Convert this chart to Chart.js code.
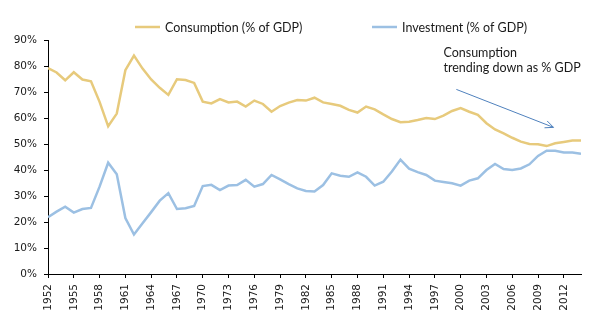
<!DOCTYPE html>
<html>
<head>
<meta charset="utf-8">
<script src="https://cdn.jsdelivr.net/npm/chart.js@4.4.0/dist/chart.umd.min.js"></script>
<style>
  html, body { margin: 0; padding: 0; background: #fff; }
  #wrap { width: 605px; height: 336px; }
</style>
</head>
<body>
<div id="wrap"><canvas id="c" width="605" height="336"></canvas></div>
<script>
// Years covered by the series
const years = [
  1952, 1953, 1954, 1955, 1956, 1957, 1958, 1959, 1960, 1961,
  1962, 1963, 1964, 1965, 1966, 1967, 1968, 1969, 1970, 1971,
  1972, 1973, 1974, 1975, 1976, 1977, 1978, 1979, 1980, 1981,
  1982, 1983, 1984, 1985, 1986, 1987, 1988, 1989, 1990, 1991,
  1992, 1993, 1994, 1995, 1996, 1997, 1998, 1999, 2000, 2001,
  2002, 2003, 2004, 2005, 2006, 2007, 2008, 2009, 2010, 2011,
  2012, 2013, 2014
];

// Consumption, % of GDP
const consumption = [
  79.2, 77.5, 74.5, 77.6, 74.8, 74.1, 66.2, 56.8, 61.7, 78.4,
  84.0, 79.0, 74.8, 71.6, 68.9, 74.9, 74.6, 73.5, 66.3, 65.6,
  67.3, 66.0, 66.3, 64.4, 66.7, 65.4, 62.4, 64.6, 65.9, 66.9,
  66.7, 67.8, 66.0, 65.4, 64.7, 63.1, 62.1, 64.4, 63.3, 61.4,
  59.6, 58.4, 58.6, 59.2, 60.0, 59.6, 60.9, 62.7, 63.8, 62.4,
  61.2, 58.0, 55.6, 54.1, 52.4, 50.9, 50.0, 49.9, 49.2, 50.3,
  50.8, 51.3, 51.3
];

// Investment, % of GDP
const investment = [
  21.8, 24.0, 25.9, 23.6, 25.0, 25.4, 33.6, 42.8, 38.4, 21.5,
  15.2, 19.5, 23.8, 28.2, 31.1, 25.0, 25.3, 26.2, 33.8, 34.3,
  32.3, 34.0, 34.2, 36.2, 33.6, 34.6, 38.1, 36.4, 34.6, 32.9,
  31.9, 31.7, 34.2, 38.7, 37.8, 37.4, 39.1, 37.4, 34.0, 35.5,
  39.4, 44.0, 40.5, 39.2, 38.1, 35.9, 35.4, 34.9, 34.0, 35.9,
  36.8, 40.0, 42.3, 40.4, 40.0, 40.6, 42.2, 45.4, 47.4, 47.4,
  46.7, 46.7, 46.2
];

// Axis tick labels
const xTickYears = [1952, 1955, 1958, 1961, 1964, 1967, 1970, 1973, 1976, 1979,
  1982, 1985, 1988, 1991, 1994, 1997, 2000, 2003, 2006, 2009, 2012];
const yTickValues = [0, 10, 20, 30, 40, 50, 60, 70, 80, 90];

// Callout text and its arrow, in data units (year, percent)
const noteLines = ['Consumption', 'trending down as % GDP'];
const noteAnchor = { year: 1998.0, pct: 83.6 };
const noteLineStep = 5.8;
const arrowFrom = { year: 1999.5, pct: 71.0 };
const arrowTo = { year: 2010.8, pct: 56.4 };

const COL_CONS = '#E7CA7C';
const COL_INV = '#9CC0E3';
const TEXT = '#1a1a1a';
const FONT_UI = 'Lato, "Open Sans", sans-serif';
const FONT_AXIS = '"DejaVu Sans", Verdana, sans-serif';

// Legend across the top: short line sample followed by the series name
const topLegend = {
  id: 'topLegend',
  afterDraw(chart) {
    const ctx = chart.ctx;
    const slots = [135, 372];
    const y = 27;
    ctx.save();
    chart.data.datasets.forEach((ds, i) => {
      const x = slots[i];
      ctx.strokeStyle = ds.borderColor;
      ctx.lineWidth = 2.5;
      ctx.beginPath();
      ctx.moveTo(x, y);
      ctx.lineTo(x + 25, y);
      ctx.stroke();
      ctx.fillStyle = TEXT;
      ctx.font = '12.5px ' + FONT_UI;
      ctx.textBaseline = 'middle';
      ctx.textAlign = 'left';
      ctx.fillText(ds.label, x + 30, y + 0.5);
    });
    ctx.restore();
  }
};

// Callout with an arrow pointing at the falling consumption share
const callout = {
  id: 'callout',
  afterDraw(chart) {
    const { ctx, scales: { x, y } } = chart;
    ctx.save();
    ctx.fillStyle = TEXT;
    ctx.font = '12.5px ' + FONT_UI;
    ctx.textAlign = 'left';
    ctx.textBaseline = 'alphabetic';
    noteLines.forEach((t, i) => {
      ctx.fillText(t, x.getPixelForValue(noteAnchor.year),
        y.getPixelForValue(noteAnchor.pct - i * noteLineStep));
    });
    const x0 = x.getPixelForValue(arrowFrom.year), y0 = y.getPixelForValue(arrowFrom.pct);
    const x1 = x.getPixelForValue(arrowTo.year), y1 = y.getPixelForValue(arrowTo.pct);
    ctx.strokeStyle = '#4F81BD';
    ctx.lineWidth = 1;
    ctx.beginPath();
    ctx.moveTo(x0, y0);
    ctx.lineTo(x1, y1);
    const a = Math.atan2(y1 - y0, x1 - x0);
    const head = 9, spread = 0.42;
    ctx.moveTo(x1 - head * Math.cos(a - spread), y1 - head * Math.sin(a - spread));
    ctx.lineTo(x1, y1);
    ctx.lineTo(x1 - head * Math.cos(a + spread), y1 - head * Math.sin(a + spread));
    ctx.stroke();
    ctx.restore();
  }
};

const toPoints = arr => years.map((yr, i) => ({ x: yr, y: arr[i] }));

new Chart(document.getElementById('c'), {
  type: 'line',
  data: {
    datasets: [
      {
        label: 'Consumption (% of GDP)',
        data: toPoints(consumption),
        borderColor: COL_CONS,
        borderWidth: 2.5,
        pointRadius: 0,
        tension: 0,
        fill: false
      },
      {
        label: 'Investment (% of GDP)',
        data: toPoints(investment),
        borderColor: COL_INV,
        borderWidth: 2.5,
        pointRadius: 0,
        tension: 0,
        fill: false
      }
    ]
  },
  options: {
    responsive: false,
    animation: false,
    layout: { padding: { top: 40, right: 24, bottom: 0, left: 0 } },
    plugins: {
      legend: { display: false },
      tooltip: { enabled: false }
    },
    scales: {
      x: {
        type: 'linear',
        min: 1952,
        max: 2014,
        afterBuildTicks: s => { s.ticks = xTickYears.map(v => ({ value: v })); },
        afterFit: s => { s.height = 62; },
        ticks: {
          autoSkip: false,
          minRotation: 90,
          maxRotation: 90,
          padding: 6,
          color: TEXT,
          font: { family: FONT_AXIS, size: 10.5 },
          callback: v => String(v)
        },
        grid: { drawOnChartArea: false, drawTicks: true, tickLength: 4, color: '#000', lineWidth: 1 },
        border: { color: '#000', width: 1 }
      },
      y: {
        min: 0,
        max: 90,
        afterBuildTicks: s => { s.ticks = yTickValues.map(v => ({ value: v })); },
        afterFit: s => { s.width = 48; },
        ticks: {
          padding: 7,
          color: TEXT,
          font: { family: FONT_AXIS, size: 10.5 },
          callback: v => v + '%'
        },
        grid: { drawOnChartArea: false, drawTicks: true, tickLength: 4, color: '#000', lineWidth: 1 },
        border: { color: '#000', width: 1 }
      }
    }
  },
  plugins: [topLegend, callout]
});
</script>
</body>
</html>
